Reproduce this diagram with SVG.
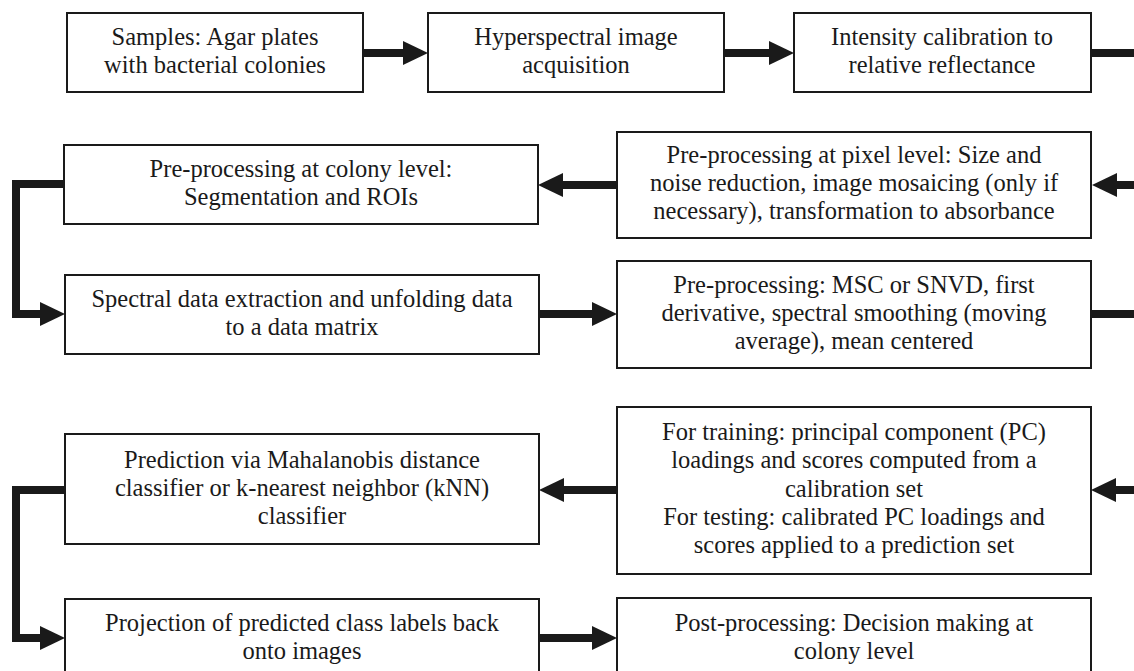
<svg xmlns="http://www.w3.org/2000/svg" width="1134" height="671" viewBox="0 0 1134 671">
<style>
.box{fill:#fff;stroke:#1a1a1a;stroke-width:2}
.t{font-family:"Liberation Serif","Times New Roman",serif;font-size:24.5px;fill:#1a1a1a;text-anchor:middle}
.c{fill:none;stroke:#1a1a1a;stroke-width:8;stroke-linejoin:miter}
</style>
<defs>
<marker id="ah" markerWidth="25" markerHeight="24" refX="0" refY="12" orient="auto" markerUnits="userSpaceOnUse">
<path d="M0,0 L25,12 L0,24 z" fill="#1a1a1a"/>
</marker>
</defs>
<rect width="1134" height="671" fill="#fff"/>
<g id="connectors">
<path class="c" d="M363,53 H403" marker-end="url(#ah)"/>
<path class="c" d="M724,53 H769" marker-end="url(#ah)"/>
<path class="c" d="M1091,53 H1134"/>
<path class="c" d="M1134,185 H1117" marker-end="url(#ah)"/>
<path class="c" d="M617,185 H563" marker-end="url(#ah)"/>
<path class="c" d="M64,184 H16 V314 H40" marker-end="url(#ah)"/>
<path class="c" d="M539,314 H592" marker-end="url(#ah)"/>
<path class="c" d="M1091,314 H1134"/>
<path class="c" d="M1134,490 H1116" marker-end="url(#ah)"/>
<path class="c" d="M617,490 H564" marker-end="url(#ah)"/>
<path class="c" d="M65,490 H16 V638 H40" marker-end="url(#ah)"/>
<path class="c" d="M539,638 H592" marker-end="url(#ah)"/>
</g>
<g id="n1"><rect class="box" x="67" y="13" width="296" height="79"/>
<text class="t" x="215" y="45">Samples: Agar plates</text><text class="t" x="215" y="73">with bacterial colonies</text></g>
<g id="n2"><rect class="box" x="428" y="13" width="296" height="79"/>
<text class="t" x="576" y="45">Hyperspectral image</text><text class="t" x="576" y="73">acquisition</text></g>
<g id="n3"><rect class="box" x="794" y="13" width="297" height="79"/>
<text class="t" x="942" y="45">Intensity calibration to</text><text class="t" x="942" y="73">relative reflectance</text></g>
<g id="n4"><rect class="box" x="617" y="132" width="474" height="106"/>
<text class="t" x="854" y="163">Pre-processing at pixel level: Size and</text>
<text class="t" x="854" y="191">noise reduction, image mosaicing (only if</text>
<text class="t" x="854" y="219">necessary), transformation to absorbance</text></g>
<g id="n5"><rect class="box" x="64" y="145" width="474" height="79"/>
<text class="t" x="301" y="177">Pre-processing at colony level:</text>
<text class="t" x="301" y="205">Segmentation and ROIs</text></g>
<g id="n6"><rect class="box" x="65" y="275" width="474" height="79"/>
<text class="t" x="302" y="307">Spectral data extraction and unfolding data</text>
<text class="t" x="302" y="335">to a data matrix</text></g>
<g id="n7"><rect class="box" x="617" y="261" width="474" height="107"/>
<text class="t" x="854" y="293">Pre-processing: MSC or SNVD, first</text>
<text class="t" x="854" y="321">derivative, spectral smoothing (moving</text>
<text class="t" x="854" y="349">average), mean centered</text></g>
<g id="n8"><rect class="box" x="617" y="407" width="474" height="167"/>
<text class="t" x="854" y="440">For training: principal component (PC)</text>
<text class="t" x="854" y="468">loadings and scores computed from a</text>
<text class="t" x="854" y="497">calibration set</text>
<text class="t" x="854" y="525">For testing: calibrated PC loadings and</text>
<text class="t" x="854" y="553">scores applied to a prediction set</text></g>
<g id="n9"><rect class="box" x="65" y="434" width="474" height="110"/>
<text class="t" x="302" y="468">Prediction via Mahalanobis distance</text>
<text class="t" x="302" y="496">classifier or k-nearest neighbor (kNN)</text>
<text class="t" x="302" y="524">classifier</text></g>
<g id="n10"><rect class="box" x="65" y="599" width="474" height="78"/>
<text class="t" x="302" y="631">Projection of predicted class labels back</text>
<text class="t" x="302" y="659">onto images</text></g>
<g id="n11"><rect class="box" x="617" y="598" width="474" height="79"/>
<text class="t" x="854" y="631">Post-processing: Decision making at</text>
<text class="t" x="854" y="659">colony level</text></g>
</svg>
